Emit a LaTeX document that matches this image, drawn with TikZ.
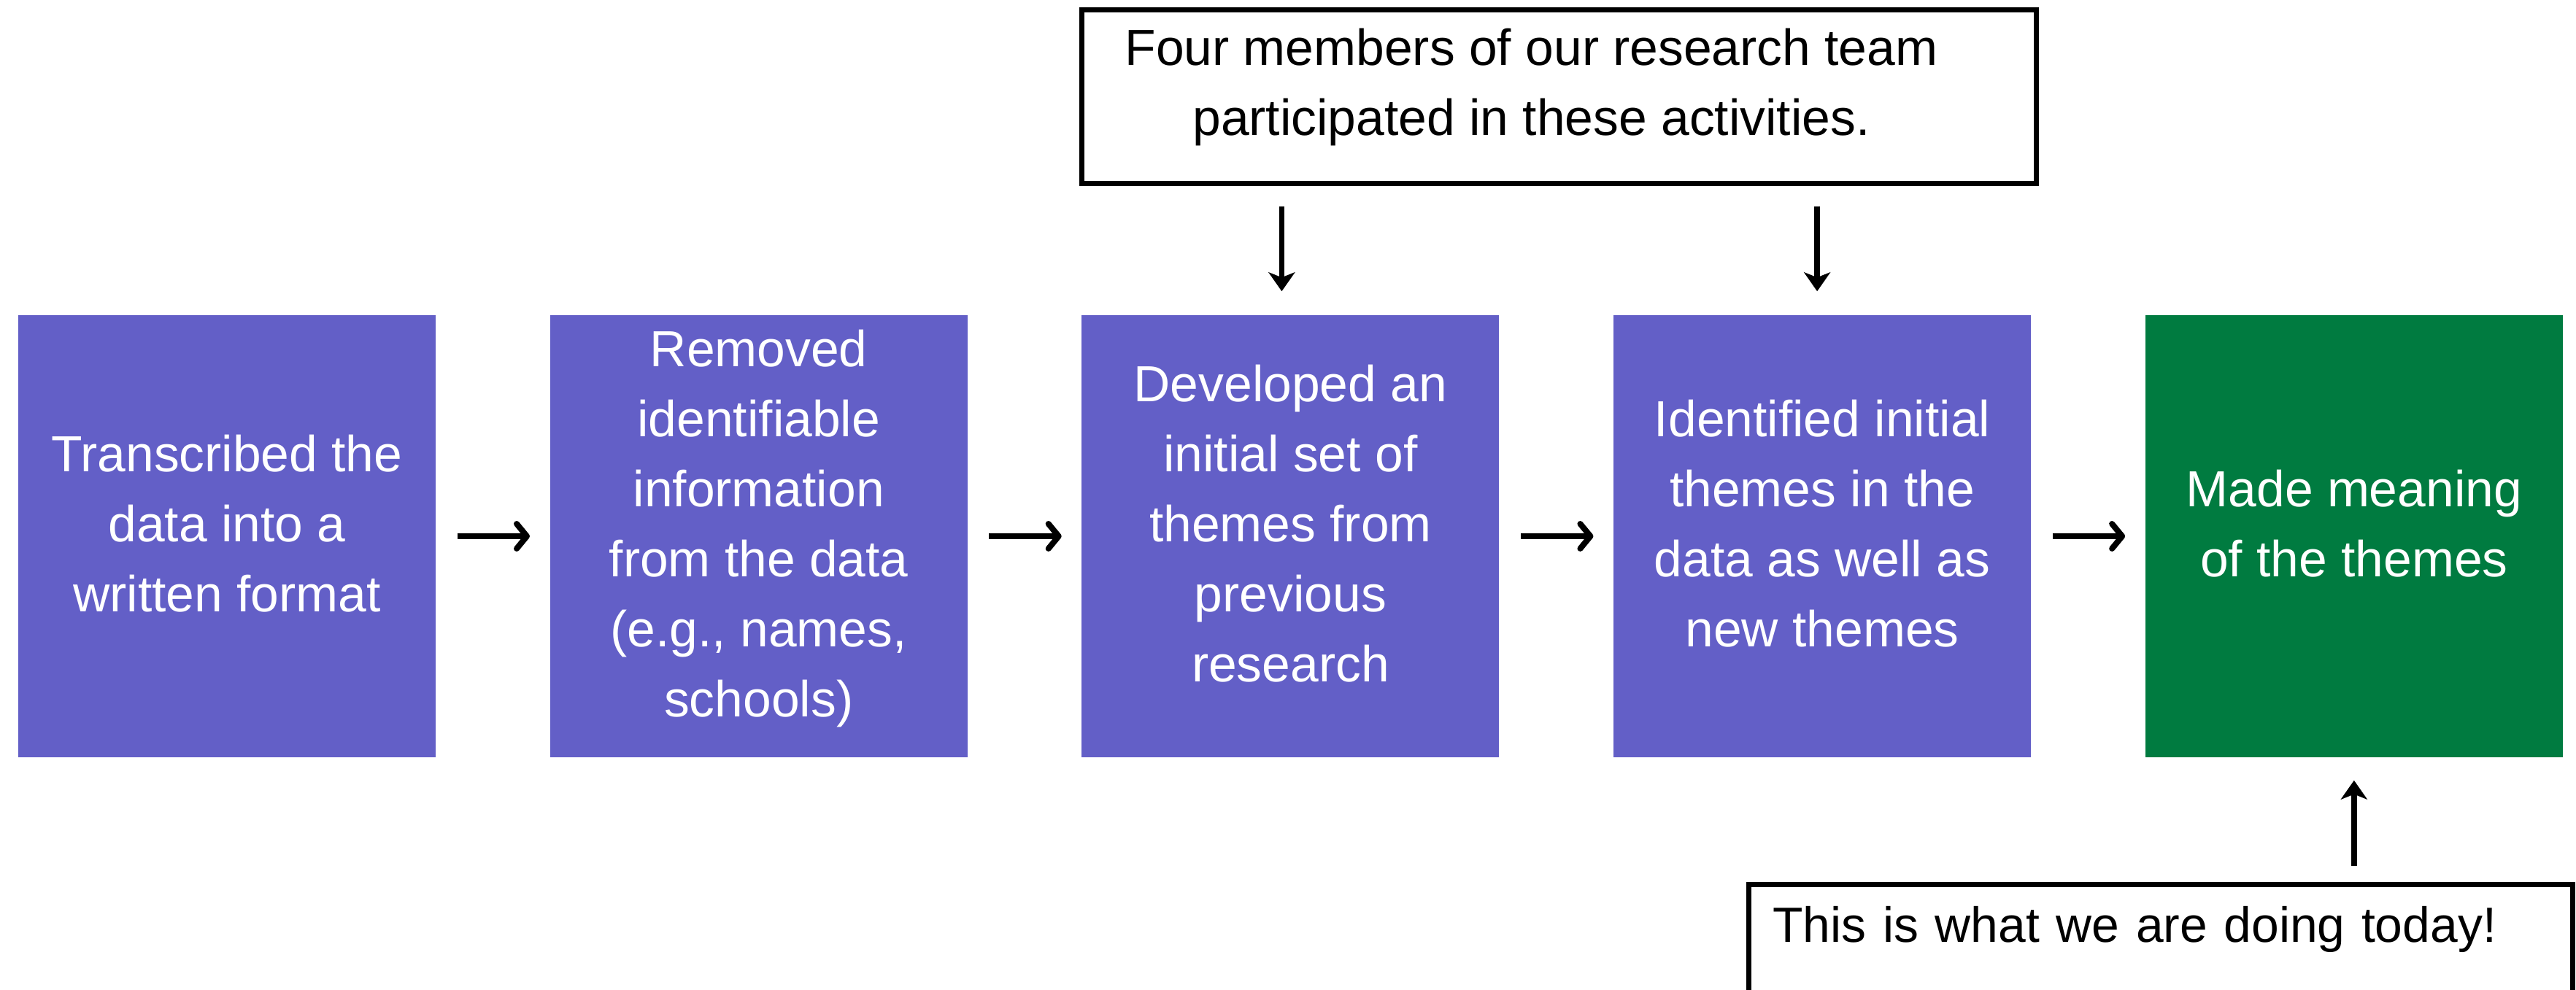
\documentclass[tikz,border=0pt]{standalone}
\usepackage{fontspec}
\setmainfont{Liberation Sans}
\usetikzlibrary{positioning,arrows.meta}
\definecolor{stepblue}{RGB}{99,95,199}
\definecolor{stepgreen}{RGB}{0,123,64}
\tikzset{
  stepbox/.style={fill=stepblue,text=white,minimum width=5.72cm,minimum height=6.06cm,
    inner sep=0pt,align=center,text depth=0.35cm,font=\fontsize{19.8pt}{27.3pt}\selectfont},
  notebox/.style={draw,line width=0.07cm,inner sep=0pt,font=\fontsize{19.8pt}{27.3pt}\selectfont},
  flow/.style={line width=0.08cm,-{Straight Barb[round,length=0.14cm,width=0.34cm]},
    shorten <=0.29cm,shorten >=0.27cm},
  vflow/.style={line width=0.075cm,-{Stealth[length=0.26cm,width=0.36cm,inset=0.07cm]}}
}
\begin{document}
\begin{tikzpicture}
\path[use as bounding box,clip] (0,0) rectangle (35.30,13.57);
% the five steps
\node[stepbox] (b1) at (3.11,6.22) {Transcribed the\\data into a\\written format};
\node[stepbox,right=1.553cm of b1] (b2) {Removed\\identifiable\\information\\from the data\\ (e.g., names,\\schools)};
\node[stepbox,right=1.553cm of b2] (b3) {Developed an\\initial set of\\themes from\\previous\\research};
\node[stepbox,right=1.553cm of b3] (b4) {Identified initial\\themes in the\\data as well as\\new themes};
\node[stepbox,fill=stepgreen,right=1.553cm of b4] (b5) {Made meaning\\of the themes};
\draw[flow] (b1) -- (b2);
\draw[flow] (b2) -- (b3);
\draw[flow] (b3) -- (b4);
\draw[flow] (b4) -- (b5);
% notes
\node[notebox,align=center,minimum width=13.08cm,minimum height=2.38cm,text depth=0.41cm] (team) at (21.365,12.245)
  {Four members of our research team\hspace*{0.76cm}\\participated in these activities.\hspace*{0.76cm}};
\node[notebox,anchor=north west,align=left,text width=10.63cm,inner xsep=0.33cm,inner ysep=0.27cm,
  text height=0.52cm,text depth=2cm,font=\fontsize{19.3pt}{27.3pt}\selectfont] (today) at (23.93,1.48)
  {This is what we are doing today!};
\draw[vflow,shorten <=0.28cm,shorten >=0.32cm] ([xshift=-0.12cm]team.south -| b3) -- ([xshift=-0.12cm]b3.north);
\draw[vflow,shorten <=0.28cm,shorten >=0.32cm] ([xshift=-0.07cm]team.south -| b4) -- ([xshift=-0.07cm]b4.north);
\draw[vflow,shorten <=0.22cm,shorten >=0.31cm] (today.north -| b5) -- (b5.south);
\end{tikzpicture}
\end{document}
